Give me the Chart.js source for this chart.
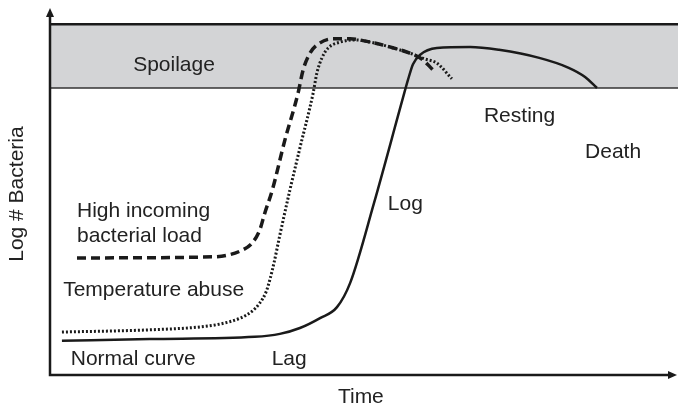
<!DOCTYPE html>
<html>
<head>
<meta charset="utf-8">
<script src="https://cdn.jsdelivr.net/npm/chart.js@4"></script>
<style>
    body { margin: 0; background: #fff; }
    #growthChart { display: block; }
</style>
</head>
<body>
<canvas id="growthChart" width="678" height="406"></canvas>
<script>
// Bacterial growth curves (time 0-100, log # bacteria 0-10)
const normalTime = [1.9, 15.9, 32.6, 36.6, 39.8, 43.0, 45.7, 47.8, 51.6, 56.2, 57.0, 57.8, 58.9, 61.6, 66.9, 71.5, 77.9, 82.6, 85.2, 87.1];
const normalLog  = [0.93, 0.98, 1.04, 1.12, 1.28, 1.55, 1.85, 2.51, 4.69, 7.55, 8.04, 8.47, 8.72, 8.91, 8.94, 8.86, 8.64, 8.37, 8.12, 7.82];

const highLoadTime = [4.3, 26.0, 30.7, 32.3, 33.4, 34.2, 35.4, 37.4, 39.5, 40.3, 41.4, 43.0, 45.1, 47.8, 51.0, 54.1, 57.3, 59.2, 61.0];
const highLoadLog  = [3.19, 3.22, 3.41, 3.62, 3.95, 4.41, 5.04, 6.40, 7.68, 8.31, 8.77, 9.05, 9.16, 9.16, 9.07, 8.94, 8.77, 8.61, 8.31];

const abuseTime = [1.9, 15.9, 23.9, 27.1, 30.3, 32.2, 33.4, 34.4, 35.0, 35.7, 36.6, 38.2, 39.8, 41.9, 42.5, 43.3, 44.3, 46.2, 48.6, 51.0, 54.1, 57.3, 59.7, 61.6, 64.0];
const abuseLog  = [1.17, 1.23, 1.31, 1.39, 1.55, 1.74, 1.96, 2.26, 2.59, 3.08, 3.81, 5.04, 6.19, 7.68, 8.23, 8.64, 8.91, 9.07, 9.13, 9.07, 8.94, 8.77, 8.61, 8.50, 8.07];

// Spoilage zone limits (log # bacteria)
const spoilageTop = 9.56;
const spoilageBottom = 7.82;

// Annotations: text, time, log, alignment
const notes = [
    ['Spoilage', 19.75, 8.28, 'center'],
    ['High incoming', 4.3, 4.31, 'left'],
    ['bacterial load', 4.3, 3.62, 'left'],
    ['Temperature abuse', 2.1, 2.15, 'left'],
    ['Normal curve', 3.3, 0.27, 'left'],
    ['Lag', 35.3, 0.27, 'left'],
    ['Log', 53.8, 4.5, 'left'],
    ['Resting', 69.1, 6.89, 'left'],
    ['Death', 85.2, 5.91, 'left']
];
const xTitle = 'Time';
const yTitle = 'Log # Bacteria';

function toPoints(xs, ys) {
    return xs.map((x, i) => ({ x: x, y: ys[i] }));
}

const ink = '#1a1a1a';
const labelFont = '21px "Liberation Sans", Arial, sans-serif';

// Axis arrows and text labels
const decorPlugin = {
    id: 'decor',
    afterDatasetsDraw(chart) {
        const c = chart.ctx;
        const xs = chart.scales.x, ys = chart.scales.y;
        const left = xs.getPixelForValue(0), right = xs.getPixelForValue(100);
        const bottom = ys.getPixelForValue(0), top = ys.getPixelForValue(10);
        c.save();
        c.strokeStyle = ink;
        c.fillStyle = ink;
        c.lineWidth = 2.5;
        c.beginPath();
        c.moveTo(left, top + 6);
        c.lineTo(left, bottom);
        c.lineTo(right - 6, bottom);
        c.stroke();
        // arrow heads
        c.beginPath();
        c.moveTo(left, top);
        c.lineTo(left - 4, top + 9);
        c.lineTo(left + 4, top + 9);
        c.closePath();
        c.fill();
        c.beginPath();
        c.moveTo(right - 1, bottom);
        c.lineTo(right - 10, bottom - 4);
        c.lineTo(right - 10, bottom + 4);
        c.closePath();
        c.fill();

        c.font = labelFont;
        c.fillStyle = '#222';
        c.textBaseline = 'alphabetic';
        notes.forEach(n => {
            c.textAlign = n[3];
            c.fillText(n[0], xs.getPixelForValue(n[1]), ys.getPixelForValue(n[2]));
        });
        c.textAlign = 'center';
        c.fillText(xTitle, xs.getPixelForValue(49.5), ys.getPixelForValue(-0.76));
        c.translate(xs.getPixelForValue(-5.25), ys.getPixelForValue(4.93));
        c.rotate(-Math.PI / 2);
        c.textBaseline = 'middle';
        c.fillText(yTitle, 0, 0);
        c.restore();
    }
};

const ctx = document.getElementById('growthChart').getContext('2d');
new Chart(ctx, {
    type: 'line',
    data: {
        datasets: [
            { label: 'Normal curve', data: toPoints(normalTime, normalLog), borderColor: ink, borderWidth: 2.5, cubicInterpolationMode: 'monotone', order: 0 },
            { label: 'High incoming bacterial load', data: toPoints(highLoadTime, highLoadLog), borderColor: ink, borderWidth: 3.5, borderDash: [9, 5], cubicInterpolationMode: 'monotone', order: 1 },
            { label: 'Temperature abuse', data: toPoints(abuseTime, abuseLog), borderColor: ink, borderWidth: 3, borderDash: [2, 2], cubicInterpolationMode: 'monotone', order: 2 },
            { label: 'Spoilage top', data: [{ x: 0, y: spoilageTop }, { x: 100, y: spoilageTop }], borderColor: ink, borderWidth: 2.5, backgroundColor: '#d3d4d6', fill: { value: spoilageBottom }, order: 10 },
            { label: 'Spoilage bottom', data: [{ x: 0, y: spoilageBottom }, { x: 100, y: spoilageBottom }], borderColor: '#333', borderWidth: 1.5, order: 9 }
        ]
    },
    options: {
        responsive: false,
        animation: false,
        devicePixelRatio: 1,
        layout: { padding: { left: 50, top: 8, right: 0, bottom: 31 } },
        elements: { point: { radius: 0 } },
        plugins: { legend: { display: false }, tooltip: { enabled: false } },
        scales: {
            x: { type: 'linear', min: 0, max: 100, display: false },
            y: { type: 'linear', min: 0, max: 10, display: false }
        }
    },
    plugins: [decorPlugin]
});
</script>
</body>
</html>
